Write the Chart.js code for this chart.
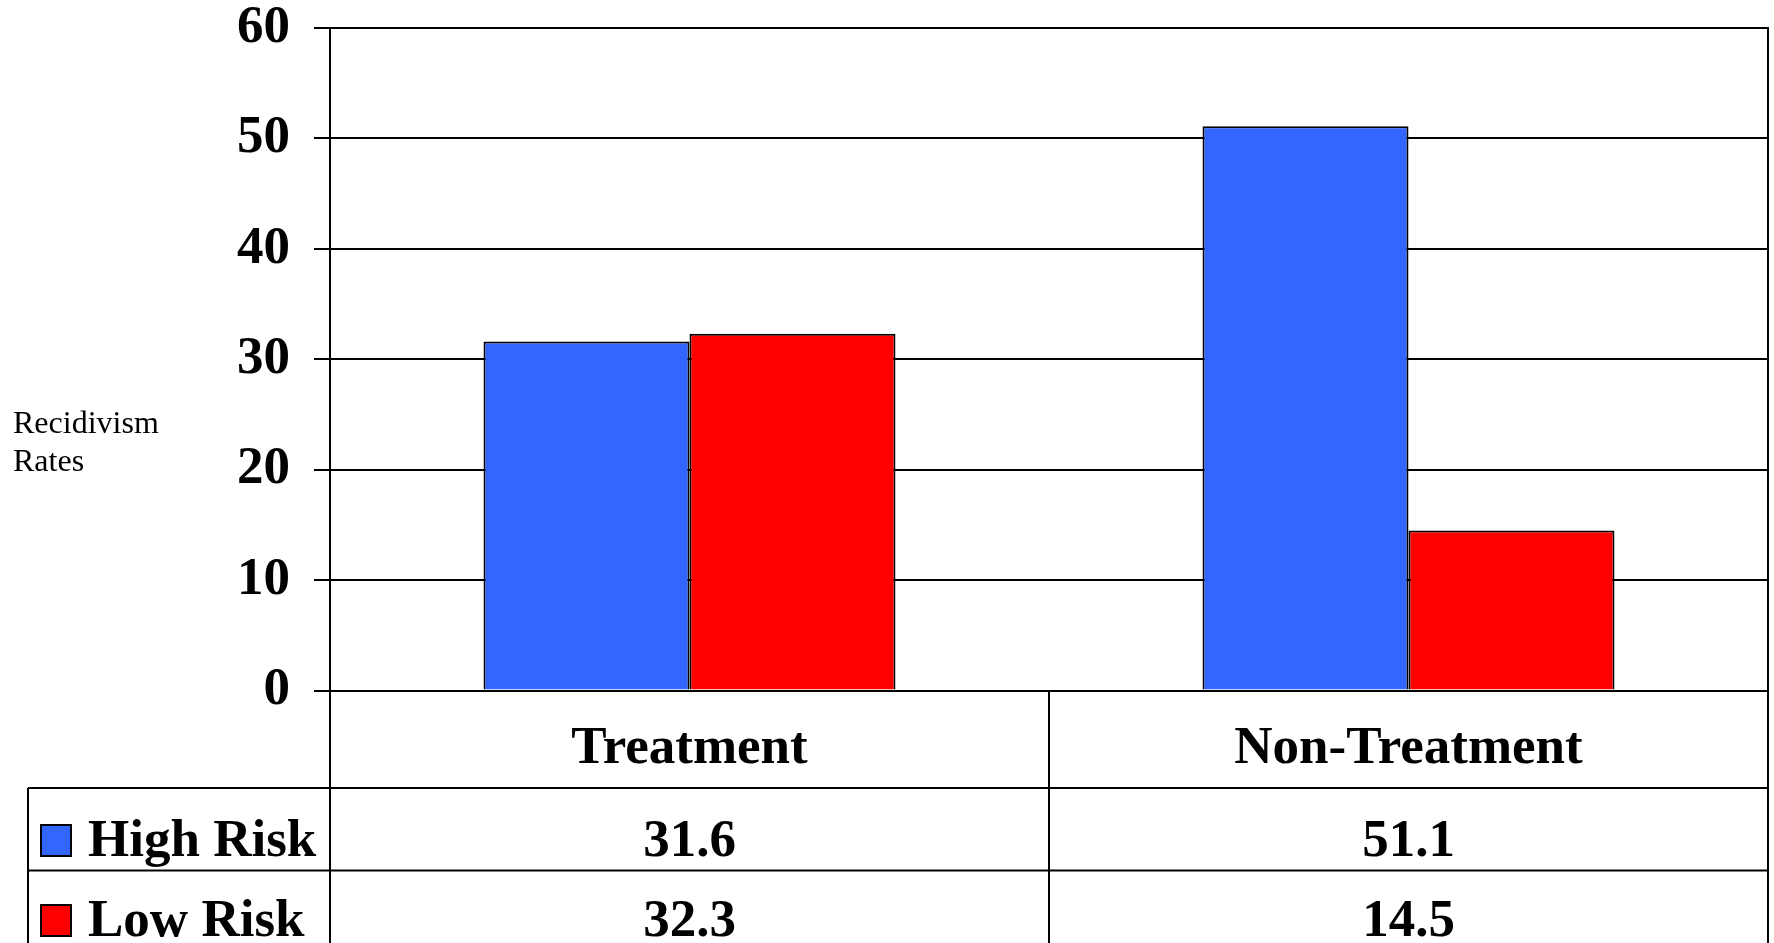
<!DOCTYPE html>
<html>
<head>
<meta charset="utf-8">
<script src="https://cdn.jsdelivr.net/npm/chart.js@4"></script>
<style>
    html, body { margin: 0; padding: 0; background: #fff; }
    #wrap { width: 1774px; height: 943px; position: relative; }
</style>
</head>
<body>
<div id="wrap"><canvas id="recidivismChart"></canvas></div>
<script>
const categories = ['Treatment', 'Non-Treatment'];
const seriesNames = ['High Risk', 'Low Risk'];
const highRisk = [31.6, 51.1];
const lowRisk = [32.3, 14.5];
const seriesColors = ['#3366FF', '#FF0000'];
const yMin = 0;
const yMax = 60;
const yStep = 10;
const axisTitle = ['Recidivism', 'Rates'];

const BOLD = 'bold 53px "Liberation Serif", "Times New Roman", serif';
const PLAIN = '32px "Liberation Serif", "Times New Roman", serif';

// rows of the data table under the plot
const ROW_CAT_BOTTOM = 788;
const ROW_HIGH_BOTTOM = 870.5;
const TABLE_LEFT = 28;

const tablePlugin = {
    id: 'dataTable',
    afterDraw(chart) {
        const ctx = chart.ctx;
        const area = chart.chartArea;
        const x = chart.scales.x;
        const h = chart.height;
        const mid = (x.getPixelForValue(0) + x.getPixelForValue(1)) / 2;

        ctx.save();
        ctx.strokeStyle = '#000';
        ctx.lineWidth = 2;
        ctx.beginPath();
        // right frame
        ctx.moveTo(area.right, area.top - 1);
        ctx.lineTo(area.right, h);
        // axis carried down through the table
        ctx.moveTo(area.left, area.bottom);
        ctx.lineTo(area.left, h);
        // column divider
        ctx.moveTo(mid, area.bottom);
        ctx.lineTo(mid, h);
        // legend column
        ctx.moveTo(TABLE_LEFT, ROW_CAT_BOTTOM);
        ctx.lineTo(TABLE_LEFT, h);
        ctx.moveTo(TABLE_LEFT, ROW_CAT_BOTTOM);
        ctx.lineTo(area.right, ROW_CAT_BOTTOM);
        ctx.moveTo(TABLE_LEFT, ROW_HIGH_BOTTOM);
        ctx.lineTo(area.right, ROW_HIGH_BOTTOM);
        ctx.stroke();

        ctx.fillStyle = '#000';
        ctx.font = BOLD;
        ctx.textAlign = 'center';
        ctx.textBaseline = 'alphabetic';
        categories.forEach((c, i) => {
            const cx = x.getPixelForValue(i);
            ctx.fillText(c, cx, 763);
            ctx.fillText(highRisk[i].toFixed(1), cx, 856);
            ctx.fillText(lowRisk[i].toFixed(1), cx, 936);
        });

        // legend keys
        const rowsY = [856, 936];
        const keyTop = [825, 905];
        seriesNames.forEach((name, i) => {
            ctx.fillStyle = seriesColors[i];
            ctx.fillRect(41, keyTop[i], 30, 31);
            ctx.strokeRect(41, keyTop[i], 30, 31);
            ctx.fillStyle = '#000';
            ctx.textAlign = 'left';
            ctx.fillText(name, 88, rowsY[i]);
        });

        // axis title, two lines, upright
        ctx.font = PLAIN;
        ctx.textAlign = 'left';
        ctx.fillText(axisTitle[0], 13, 433);
        ctx.fillText(axisTitle[1], 13, 471);
        ctx.restore();
    }
};

new Chart(document.getElementById('recidivismChart').getContext('2d'), {
    type: 'bar',
    data: {
        labels: categories,
        datasets: [
            {
                label: seriesNames[0],
                data: highRisk,
                backgroundColor: seriesColors[0],
                borderColor: '#000',
                borderWidth: 2
            },
            {
                label: seriesNames[1],
                data: lowRisk,
                backgroundColor: seriesColors[1],
                borderColor: '#000',
                borderWidth: 2
            }
        ]
    },
    options: {
        responsive: true,
        maintainAspectRatio: false,
        animation: false,
        devicePixelRatio: 1,
        layout: { padding: { top: 28, bottom: 252.5, left: 0, right: 6 } },
        datasets: { bar: { barPercentage: 1, categoryPercentage: 0.573 } },
        plugins: {
            legend: { display: false },
            tooltip: { enabled: false }
        },
        scales: {
            x: { display: false },
            y: {
                min: yMin,
                max: yMax,
                ticks: {
                    stepSize: yStep,
                    color: '#000',
                    padding: 24,
                    font: { family: '"Liberation Serif", "Times New Roman", serif', size: 53, weight: 'bold', lineHeight: 1 }
                },
                grid: { color: '#000', lineWidth: 2, tickLength: 16, drawTicks: true },
                border: { display: true, color: '#000', width: 2 },
                afterFit(scale) {
                    scale.width = 330;
                    scale.paddingTop = 0;
                    scale.paddingBottom = 0;
                }
            }
        }
    },
    plugins: [tablePlugin]
});
</script>
</body>
</html>
